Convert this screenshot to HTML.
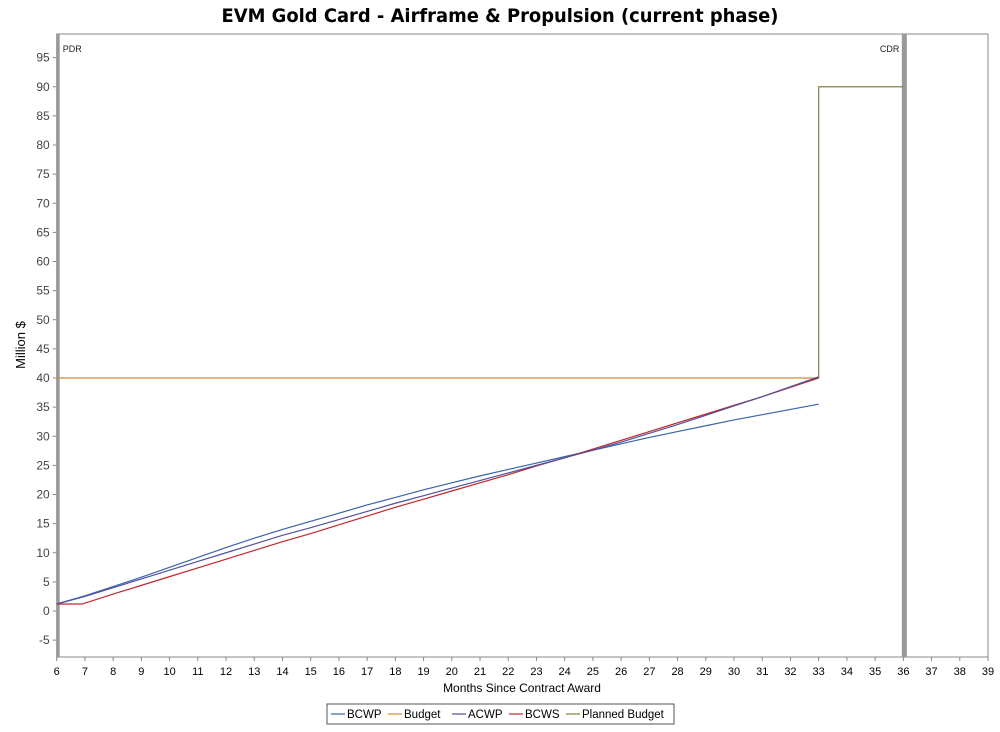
<!DOCTYPE html>
<html><head><meta charset="utf-8"><style>
body{margin:0;background:#fff;width:1000px;height:727px;overflow:hidden;font-family:"Liberation Sans",sans-serif}
</style></head><body>
<svg width="1000" height="727" id="c">
<text x="500" y="22" text-anchor="middle" font-family="DejaVu Sans" font-weight="bold" font-size="19" textLength="557" lengthAdjust="spacingAndGlyphs">EVM Gold Card - Airframe &amp; Propulsion (current phase)</text>
<text transform="translate(25,345) rotate(-90)" text-anchor="middle" font-size="13">Million $</text>
<text x="522" y="692" text-anchor="middle" font-size="12">Months Since Contract Award</text>
<g id="g"></g>
</svg>
<script>
const months=[6,7,8,9,10,11,12,13,14,15,16,17,18,19,20,21,22,23,24,25,26,27,28,29,30,31,32,33];
const bcwp=[1.2,2.6,4.2,5.8,7.5,9.2,10.9,12.5,14,15.4,16.8,18.2,19.5,20.8,22,23.2,24.3,25.4,26.5,27.6,28.7,29.8,30.8,31.8,32.8,33.7,34.6,35.5];
const acwp=[1.2,2.5,4,5.5,7,8.5,10,11.5,13,14.3,15.7,17.1,18.5,19.8,21.1,22.4,23.7,25,26.3,27.6,29,30.5,32,33.6,35.2,36.8,38.5,40.2];
const bcwsMonths=[6,6.9,8,9,10,11,12,13,14,15,16,17,18,19,20,21,22,23,24,25,26,27,28,29,30,31,32,33];
const bcws=[1.2,1.2,2.9,4.4,5.9,7.4,8.9,10.4,11.9,13.3,14.8,16.3,17.8,19.2,20.6,22,23.4,24.9,26.3,27.8,29.3,30.8,32.3,33.8,35.3,36.8,38.4,40];
const budgetMonths=[6,33];
const budget=[40,40];
const plannedMonths=[33,33,36];
const planned=[40,90,90];
const milestones=[["PDR",6],["CDR",36]];
const yTicks=[-5,0,5,10,15,20,25,30,35,40,45,50,55,60,65,70,75,80,85,90,95];
const xTicks=[6,7,8,9,10,11,12,13,14,15,16,17,18,19,20,21,22,23,24,25,26,27,28,29,30,31,32,33,34,35,36,37,38,39];
const L=56.7,R=988,T=34,B=657;
const X=v=>L+(v-6)*(R-L)/33;
const Y=v=>611-v*5.825;
const g=document.getElementById('g');const NS='http://www.w3.org/2000/svg';
function mk(t,a,p){const e=document.createElementNS(NS,t);for(const k in a)e.setAttribute(k,a[k]);(p||g).appendChild(e);return e;}
const frame=mk('rect',{x:L,y:T,width:R-L,height:B-T,fill:'none',stroke:'#888'});


yTicks.forEach(v=>{const y=Y(v);mk('line',{x1:L-4,x2:L,y1:y,y2:y,stroke:'#888'});
const t=mk('text',{x:L-7,y:y+4,'text-anchor':'end','font-size':12,fill:'#444'});t.textContent=v;

});
xTicks.forEach(v=>{const x=X(v);mk('line',{x1:x,x2:x,y1:B,y2:B+4,stroke:'#888'});
const t=mk('text',{x:x,y:B+18,'text-anchor':'middle','font-size':11,fill:'#000'});t.textContent=v;

});
milestones.forEach(([n,m],i)=>{const x=X(m);const w=i?5:3;
const r=mk('rect',{x:x-(i?1.5:0),y:T,width:w,height:B-T,fill:'#999'});


const t=mk('text',{x:i?x-4:x+6,y:T+18,'text-anchor':i?'end':'start','font-size':9,fill:'#222'});t.textContent=n;

});
function line(xs,ys,c,n){const p=mk('polyline',{points:xs.map((m,i)=>X(m)+','+Y(ys[i])).join(' '),fill:'none',stroke:c,'stroke-width':1.2});

}
line(budgetMonths,budget,'#d08a40','budget-line');
line(plannedMonths,planned,'#8a8040','planned-budget-line');
line(months,bcwp,'#3a64a8','bcwp-line');
line(bcwsMonths,bcws,'#c02828','bcws-line');
line(months,acwp,'#5050a0','acwp-line');
const lg=mk('rect',{x:327,y:704,width:347,height:20,fill:'#fff',stroke:'#555'});


const items=[["BCWP","#3a64a8",331],["Budget","#d08a40",388],["ACWP","#5050a0",452],["BCWS","#c02828",509],["Planned Budget","#8a8040",566]];
items.forEach(([n,c,x])=>{mk('line',{x1:x,x2:x+14,y1:714,y2:714,stroke:c,'stroke-width':1.2});
const t=mk('text',{x:x+16,y:718,'font-size':11.5});t.textContent=n;

});
</script>
</body></html>
